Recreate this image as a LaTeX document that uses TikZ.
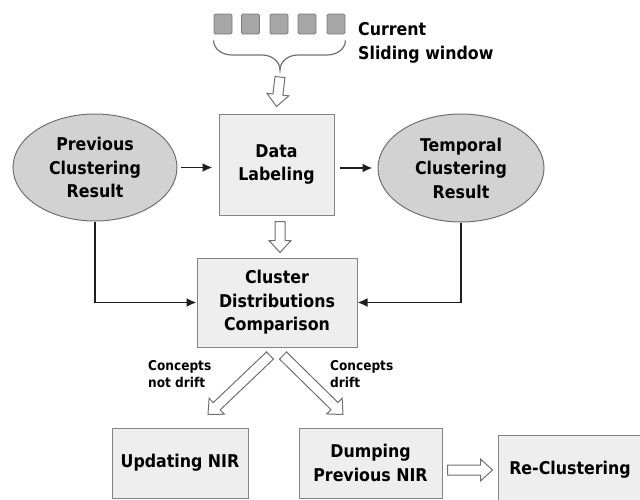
\documentclass[tikz,border=0pt]{standalone}
\usepackage{fontspec}
\setmainfont{DejaVu Sans Condensed}[BoldFont=DejaVu Sans Condensed Bold]
\usetikzlibrary{shapes.geometric,arrows.meta,calc}

\definecolor{boxfill}{HTML}{EEEEEE}
\definecolor{boxline}{HTML}{858585}
\definecolor{ovalfill}{HTML}{D2D2D2}
\definecolor{ovalline}{HTML}{707070}
\definecolor{cellfill}{HTML}{A6A6A6}
\definecolor{cellline}{HTML}{7A7A7A}
\definecolor{wire}{HTML}{1E1E1E}

\tikzset{
  stagebox/.style={draw=boxline, fill=boxfill, line width=1pt, inner sep=0pt,
    align=center, font=\fontsize{17.6}{23.5}\selectfont\bfseries},
  resultoval/.style={ellipse, draw=ovalline, fill=ovalfill, line width=1pt,
    inner sep=0pt, minimum width=164pt, minimum height=107pt, align=center,
    font=\fontsize{17.6}{23.5}\selectfont\bfseries},
  cell/.style={draw=cellline, fill=cellfill, line width=0.8pt, rounded corners=1.5pt,
    minimum width=18pt, minimum height=20pt, inner sep=0pt},
  flow/.style={draw=wire, line width=1.8pt, -{Latex[length=10pt,width=9pt]}},
  hollow/.style={draw=ovalline, fill=white, line width=1pt, line join=miter},
  smalllabel/.style={align=left, inner sep=0pt, font=\fontsize{13.5}{17}\selectfont\bfseries},
}

% hollow block arrow from coordinate #1 to coordinate #2
\newcommand\blockarrow[2]{%
  \draw[hollow] let \p1=($(#2)-(#1)$), \n1={atan2(\y1,\x1)}, \n2={veclen(\x1,\y1)} in
    [shift={(#1)}, rotate=\n1]
    (0,5) -- ({\n2-12},5) -- ({\n2-12},11) -- (\n2,0) -- ({\n2-12},-11)
    -- ({\n2-12},-5) -- (0,-5) -- cycle;}

\begin{document}
\begin{tikzpicture}[x=1pt,y=1pt]
\useasboundingbox (0,0) rectangle (640,-499);
\clip (0,0) rectangle (640,-499);

% sliding window cells
\foreach \i/\x in {1/223,2/250.5,3/279,4/307,5/336}
  \node[cell] (sq\i) at (\x,-24) {};
\node[anchor=west, align=left, inner sep=0pt,
      font=\fontsize{17.6}{24}\selectfont\bfseries] (cap) at (358,-43)
  {Current\\Sliding window};

% brace under the window
\coordinate (btip) at (280,-70);
\draw[draw=ovalline, line width=1.2pt]
  ([yshift=-6pt]sq1.south west) to[out=-90,in=180] (232,-55) -- (262,-55)
  to[out=0,in=90] (btip) to[out=90,in=180] (298,-55) -- (327,-55)
  to[out=0,in=-90] ([yshift=-6pt]sq5.south east);

% main stages
\node[resultoval] (prev) at (95,-167.5) {Previous\\Clustering\\Result};
\node[stagebox, minimum width=115pt, minimum height=101pt] (data) at (276.5,-164.5) {Data\\Labeling};
\node[resultoval, minimum width=166pt, minimum height=108pt] (temp) at (461,-168) {Temporal\\Clustering\\Result};
\node[stagebox, minimum width=160pt, minimum height=89pt] (cmp) at (277,-302.5) {Cluster\\Distributions\\Comparison};
\node[stagebox, minimum width=136pt, minimum height=70pt] (upd) at (180,-463) {Updating NIR};
\node[stagebox, minimum width=143pt, minimum height=70pt] (dmp) at (370.5,-463) {Dumping\\Previous NIR};
\node[stagebox, minimum width=144pt, minimum height=70pt] (rec) at (570,-470) {Re-Clustering};

% solid connectors
\draw[flow] ([xshift=3pt]prev.east) -- ([xshift=-6pt]prev.east -| data.west);
\draw[flow] ([xshift=5pt]data.east |- temp.west) -- ([xshift=-5pt]temp.west);
\draw[flow] (prev.south) |- (cmp.west);
\draw[flow] (temp.south) |- (cmp.east);

% block arrows
\coordinate (a1) at ($(btip)+(0,-7)$);
\coordinate (a2) at ($(data.north)+(0,7)$);
\blockarrow{a1}{a2}
\coordinate (b1) at ($(data.south)+(3.5,-6)$);
\coordinate (b2) at ($(cmp.north)+(3,5)$);
\blockarrow{b1}{b2}
\coordinate (c1) at ($(cmp.south)+(-7,-8)$);
\coordinate (c2) at ($(upd.north)+(28,13)$);
\blockarrow{c1}{c2}
\coordinate (d1) at ($(cmp.south)+(6,-8)$);
\coordinate (d2) at ($(dmp.north)+(-27.5,13)$);
\blockarrow{d1}{d2}
\coordinate (e1) at ($(dmp.east |- rec.west)+(5,0)$);
\coordinate (e2) at ($(rec.west)+(-5,0)$);
\blockarrow{e1}{e2}

% branch labels
\node[smalllabel, anchor=north west] (nd) at (148,-360) {Concepts\\not drift};
\node[smalllabel, anchor=north west] (dr) at (330,-360) {Concepts\\drift};
\end{tikzpicture}
\end{document}
